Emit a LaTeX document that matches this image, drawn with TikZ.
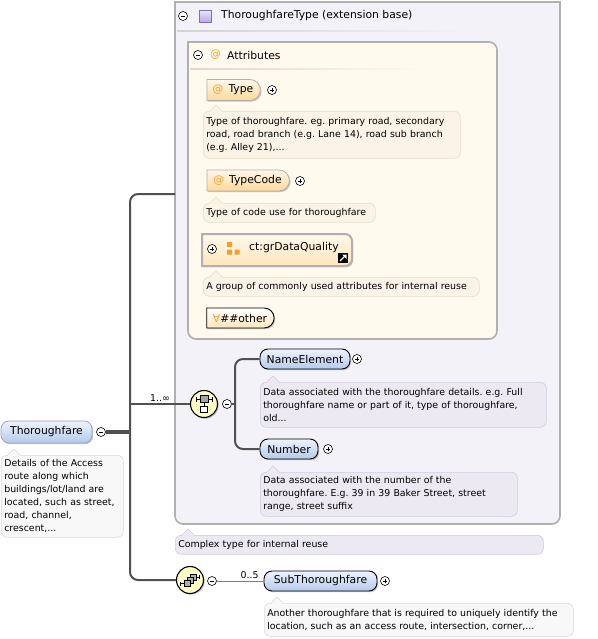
\documentclass[tikz,border=0pt]{standalone}
\usepackage{fontspec}
\setmainfont{DejaVu Sans}
\usepackage{xcolor}
\usetikzlibrary{shapes.misc,positioning,shadows}

\definecolor{lineGray}{HTML}{505050}
\definecolor{boxBorder}{HTML}{B0B0B0}
\definecolor{typeFill}{HTML}{F4F2F9}
\definecolor{attrFill}{HTML}{FFF9EE}
\definecolor{atOrange}{HTML}{F0A030}
\definecolor{elemTop}{HTML}{EEF3FB}
\definecolor{elemBottom}{HTML}{B4CAEC}
\definecolor{elemSoft}{HTML}{8CA3C6}
\definecolor{attrTop}{HTML}{FFF8EC}
\definecolor{attrBottom}{HTML}{FFD898}
\definecolor{groupBottom}{HTML}{FFE6BC}
\definecolor{compFill}{HTML}{FFFFC6}
\definecolor{docFill}{HTML}{F8F8F8}
\definecolor{docBorder}{HTML}{DADADA}
\definecolor{docTypeFill}{HTML}{ECE9F3}
\definecolor{docTypeBorder}{HTML}{D0CBDF}
\definecolor{docAttrFill}{HTML}{FAF3E6}
\definecolor{docAttrBorder}{HTML}{E5DCCB}
\definecolor{iconTop}{HTML}{EDE6FB}
\definecolor{iconBottom}{HTML}{B9A9E4}
\definecolor{iconBorder}{HTML}{8070B0}

\frenchspacing
\newcommand{\docsize}{\fontsize{9.4}{13}\selectfont}
\newcommand{\titlesize}{\fontsize{10.8}{12}\selectfont}

\tikzstyle{softshadow} = [drop shadow={shadow xshift=1.2pt, shadow yshift=-1.2pt, fill=black, opacity=0.22}]
\tikzstyle{element} = [rectangle, rounded corners=8pt, draw=black, line width=0.9pt, softshadow,
    top color=elemTop, bottom color=elemBottom, minimum height=20pt, font=\titlesize]
\tikzstyle{attribute} = [rounded rectangle, rounded rectangle left arc=none, draw=boxBorder, softshadow,
    line width=0.8pt, top color=attrTop, bottom color=attrBottom, minimum height=21pt, font=\titlesize]
\tikzstyle{doc} = [rectangle, rounded corners=6pt, draw=docBorder, fill=docFill, line width=0.6pt,
    anchor=north west, align=left, font=\docsize, inner xsep=3pt, inner ysep=2pt]
\tikzstyle{attrdoc} = [doc, draw=docAttrBorder, fill=docAttrFill]
\tikzstyle{typedoc} = [doc, draw=docTypeBorder, fill=docTypeFill]
\tikzstyle{minusmark} = [circle, draw, line width=0.6pt, inner sep=0pt, minimum size=9pt, fill=white,
    path picture={\draw[line width=0.7pt] ([xshift=-2.4pt]path picture bounding box.center) -- ([xshift=2.4pt]path picture bounding box.center);}]
\tikzstyle{plusmark} = [circle, draw, line width=0.6pt, inner sep=0pt, minimum size=9pt, fill=white,
    path picture={\draw[line width=0.7pt] ([xshift=-2.4pt]path picture bounding box.center) -- ([xshift=2.4pt]path picture bounding box.center)
      ([yshift=-2.4pt]path picture bounding box.center) -- ([yshift=2.4pt]path picture bounding box.center);}]
\tikzstyle{compositor} = [circle, draw=black, line width=1.1pt, fill=compFill, softshadow, minimum size=27pt, inner sep=0pt]
\tikzstyle{label} = [font=\titlesize, anchor=west, inner sep=0pt]
\tikzstyle{conn} = [draw=lineGray, line width=2pt]
\tikzstyle{thinconn} = [draw=gray, line width=0.8pt]

\begin{document}
\begin{tikzpicture}[x=1pt, y=-1pt]
	\useasboundingbox (0,0) rectangle (597,639);
	\fill[white] (0,0) rectangle (597,639);

	% containers
	\path[draw=boxBorder, line width=1.6pt, fill=typeFill] (175,2) -- (560,2) [rounded corners=8pt] -- (560,524) -- (175,524) [sharp corners] -- cycle;
	\shade[left color=gray!35, right color=typeFill] (177,30.5) rectangle (466,32);
	\path[draw=boxBorder, line width=1.6pt, fill=attrFill] (188,339) -- (188,42) [rounded corners=8pt] -- (497,42) -- (497,339) -- cycle;
	\shade[left color=gray!30, right color=attrFill] (190,68.5) rectangle (420,70);
	\path[draw=boxBorder, line width=2pt, top color=attrTop, bottom color=groupBottom, softshadow] (202,266) -- (202,234) [rounded corners=7pt] -- (352,234) -- (352,266) [sharp corners] -- cycle;

	% Place nodes
	\node [element, draw=elemSoft, line width=0.7pt, minimum width=91pt, minimum height=22pt] (thof) at (46.5,432) {Thoroughfare};
	\node [minusmark] (thofMinus) at (101,432) {};
	\node [doc, text width=116pt, minimum height=82pt] (thofDoc) at (1,455) {Details of the Access\\route along which\\buildings/lot/land are\\located, such as street,\\road, channel,\\crescent,...};

	\node [minusmark] (typeMinus) at (183,16) {};
	\node [rectangle, draw=iconBorder, top color=iconTop, bottom color=iconBottom, minimum size=12pt, inner sep=0pt] (typeIcon) at (205,16) {};
	\node [label] (typeLabel) at (221,16) {ThoroughfareType (extension base)};

	\node [minusmark] (attrMinus) at (198,55) {};
	\node [label, text=atOrange] (attrAt) at (210,55) {@};
	\node [label] (attrLabel) at (227,55) {Attributes};

	\node [attribute, minimum width=60pt] (typeAttr) at (233,90) {{\color{atOrange}@}\hspace{5pt}Type};
	\node [plusmark] (typePlus) at (272,90) {};
	\node [attrdoc, text width=251pt, minimum height=47pt] (typeDoc) at (203,111) {Type of thoroughfare. eg. primary road, secondary\\road, road branch (e.g. Lane 14), road sub branch\\(e.g. Alley 21),...};

	\node [attribute, minimum width=89pt] (codeAttr) at (247.5,180.5) {{\color{atOrange}@}\hspace{5pt}TypeCode};
	\node [plusmark] (codePlus) at (300,181) {};
	\node [attrdoc, text width=166pt, minimum height=19pt] (codeDoc) at (203,203) {Type of code use for thoroughfare};

	\node [plusmark] (groupPlus) at (212,249) {};
	\node [minimum size=13pt, inner sep=0pt, path picture={
	    \fill[atOrange, shift={(path picture bounding box.center)}] (-6,-6) rectangle (-1,-1) (-6,1.5) rectangle (-1,6.5) (1.5,1.5) rectangle (6.5,6.5);}] (groupIcon) at (233,248) {};
	\node [label] (groupLabel) at (249,248) {ct:grDataQuality};
	\node [rectangle, fill=black, minimum size=10pt, inner sep=0pt, path picture={
	    \draw[white, line width=1.3pt, shift={(path picture bounding box.center)}] (-3,3) -- (1.5,-1.5);
	    \fill[white, shift={(path picture bounding box.center)}] (3.5,-3.5) -- (-1,-3.5) -- (3.5,1) -- cycle;}] (linkIcon) at (343,258) {};
	\node [attrdoc, text width=270pt, minimum height=19pt] (groupDoc) at (203,277) {A group of commonly used attributes for internal reuse};

	\node [rounded rectangle, rounded rectangle left arc=none, draw=black, line width=0.9pt, top color=white, bottom color=groupBottom, softshadow,
	    minimum width=74pt, minimum height=20pt, font=\titlesize] (otherAttr) at (240,318) {{\color{atOrange}∀}\#\#other};

	\node [compositor, path picture={
	    \draw[line width=0.8pt, shift={(path picture bounding box.center)}] (-8,-5) -- (8,-5) (-8,-7.5) -- (-8,-2.5) (8,-7.5) -- (8,-2.5);
	    \draw[line width=0.7pt, fill=gray!70, shift={(path picture bounding box.center)}] (-4,-8.5) rectangle (4,-1.5);
	    \draw[line width=0.7pt, shift={(path picture bounding box.center)}] (0,-1.5) -- (0,2);
	    \draw[line width=0.7pt, fill=white, shift={(path picture bounding box.center)}] (-3.5,2) rectangle (3.5,8);}] (seq) at (204,404) {};
	\node [minusmark] (seqMinus) at (227,404) {};

	\node [element, minimum width=90pt] (nameEl) at (305,359) {NameElement};
	\node [plusmark] (namePlus) at (357,359) {};
	\node [typedoc, text width=280pt, minimum height=45pt] (nameDoc) at (260,382) {Data associated with the thoroughfare details. e.g. Full\\thoroughfare name or part of it, type of thoroughfare,\\old...};

	\node [element, minimum width=58pt] (numberEl) at (289,449) {Number};
	\node [plusmark] (numberPlus) at (328,449) {};
	\node [typedoc, text width=251pt, minimum height=44pt] (numberDoc) at (260,472) {Data associated with the number of the\\thoroughfare. E.g. 39 in 39 Baker Street, street\\range, street suffix};

	\node [typedoc, text width=362pt, minimum height=19pt] (typeDescDoc) at (175,535) {Complex type for internal reuse};

	\node [compositor, path picture={
	    \draw[line width=0.8pt, shift={(path picture bounding box.center)}] (-10,3.5) -- (-6,3.5) (-10,1.5) -- (-10,5.5) (6,-3) -- (9.5,-3) (9.5,-5) -- (9.5,-1);
	    \draw[line width=0.7pt, fill=gray!60, shift={(path picture bounding box.center)}] (0,-6) rectangle (6,0);
	    \draw[line width=0.7pt, fill=gray!60, shift={(path picture bounding box.center)}] (-3,-3) rectangle (3,3);
	    \draw[line width=0.7pt, fill=gray!60, shift={(path picture bounding box.center)}] (-6,0.5) rectangle (0,6.5);}] (choice) at (190,580) {};
	\node [minusmark] (choiceMinus) at (212,581) {};

	\node [element, minimum width=113pt] (subEl) at (320.5,581) {SubThoroughfare};
	\node [plusmark] (subPlus) at (385,581) {};
	\node [doc, text width=303pt, minimum height=33pt] (subDoc) at (264,603) {Another thoroughfare that is required to uniquely identify the\\location, such as an access route, intersection, corner,...};

	\coordinate (trunk) at (130,432);
	\coordinate (typeIn) at (175,194);
	\coordinate (branch) at (235,404);

	% doc tips
	\foreach \d/\c/\b in {thofDoc/docFill/docBorder, subDoc/docFill/docBorder, typeDoc/docAttrFill/docAttrBorder,
	    codeDoc/docAttrFill/docAttrBorder, groupDoc/docAttrFill/docAttrBorder, nameDoc/docTypeFill/docTypeBorder,
	    numberDoc/docTypeFill/docTypeBorder, typeDescDoc/docTypeFill/docTypeBorder} {
	  \fill[\c] ([xshift=7pt,yshift=-0.8pt]\d.north west) -- ++(6,-6.8) -- ++(6,6.8) -- cycle;
	  \draw[\b, line width=0.6pt] ([xshift=7pt]\d.north west) -- ++(6,-6) -- ++(6,6);
	}

	% connectors
	\path [conn, line width=3.5pt] (thofMinus.east) -- (trunk);
	\path [conn, rounded corners=8pt] (typeIn) -| (trunk) |- (choice.west);
	\path [conn] (trunk |- seq) -- node [above, font=\docsize, inner sep=2pt] {1..∞} (seq.west);
	\path [conn] (seqMinus.east) -- (branch);
	\path [conn, rounded corners=8pt] (nameEl.west) -| (branch) |- (numberEl.west);
	\path [thinconn] (choiceMinus.east) -- node [above, pos=0.7, font=\docsize, inner sep=2pt] {0..5} (subEl.west);
\end{tikzpicture}
\end{document}
